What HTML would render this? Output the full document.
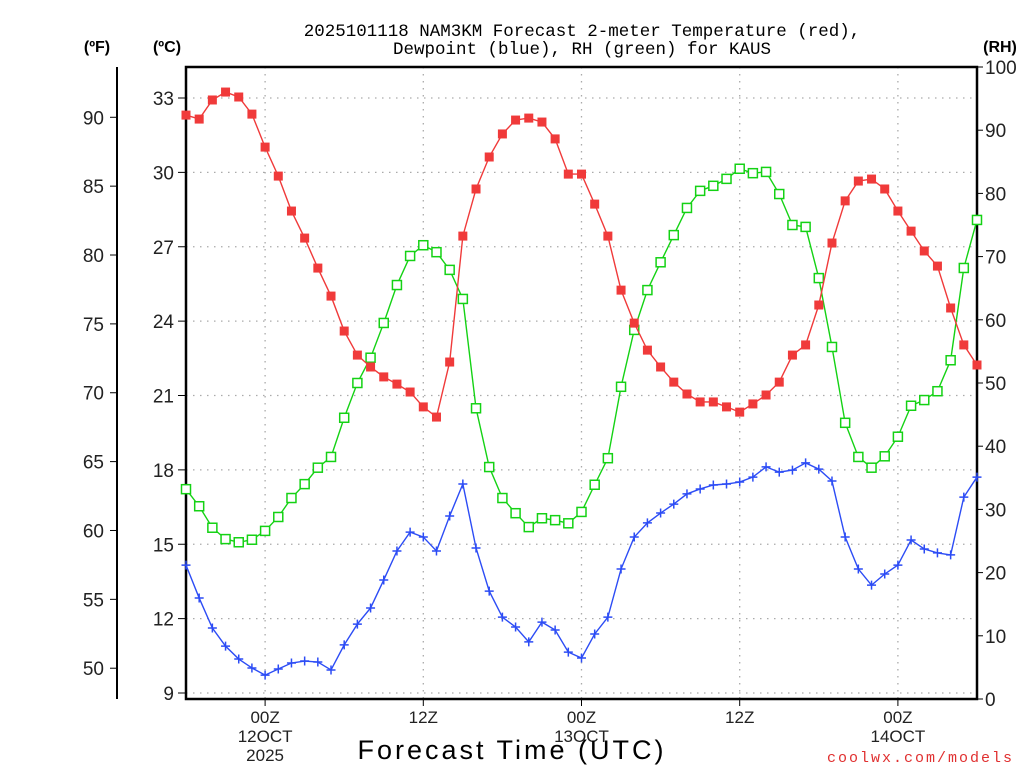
<!DOCTYPE html>
<html><head><meta charset="utf-8"><style>
body{margin:0;background:#fff;}
svg{display:block;font-family:"Liberation Sans",sans-serif;}
</style></head><body>
<svg id="chart" width="1024" height="768" xmlns="http://www.w3.org/2000/svg">
<g id="grid"></g>
<g id="axes"></g>
<g id="series"></g>
<text x="582" y="36" text-anchor="middle" font-size="17.5" font-family="Liberation Mono, monospace">2025101118 NAM3KM Forecast 2-meter Temperature (red),</text>
<text x="582" y="54" text-anchor="middle" font-size="17.5" font-family="Liberation Mono, monospace">Dewpoint (blue), RH (green) for KAUS</text>
<text x="97" y="52" text-anchor="middle" font-size="16" font-weight="bold">(ºF)</text>
<text x="167" y="52" text-anchor="middle" font-size="16" font-weight="bold">(ºC)</text>
<text x="1000" y="52" text-anchor="middle" font-size="16" font-weight="bold">(RH)</text>
<text x="512" y="759" text-anchor="middle" font-size="27" letter-spacing="3">Forecast Time (UTC)</text>
<text x="1014" y="762" text-anchor="end" font-size="15" fill="#e03030" letter-spacing="2" font-family="Liberation Mono, monospace">coolwx.com/models</text>
</svg>
<script>
const hours=[];for(let h=-6;h<=54;h++)hours.push(h);
const tempC=[32.31,32.15,32.92,33.24,33.04,32.35,31.02,29.85,28.44,27.35,26.14,25.01,23.60,22.63,22.15,21.75,21.46,21.14,20.54,20.13,22.35,27.43,29.33,30.62,31.55,32.11,32.19,32.03,31.35,29.93,29.93,28.72,27.43,25.25,23.92,22.83,22.15,21.54,21.06,20.74,20.74,20.54,20.33,20.66,21.02,21.54,22.63,23.04,24.65,27.15,28.85,29.65,29.73,29.33,28.44,27.63,26.83,26.22,24.53,23.04,22.23];
const dewC=[14.16,12.83,11.62,10.89,10.37,10.01,9.72,9.97,10.21,10.29,10.25,9.93,10.94,11.78,12.43,13.56,14.73,15.49,15.29,14.73,16.14,17.43,14.85,13.11,12.06,11.66,11.06,11.86,11.54,10.65,10.41,11.38,12.06,14.00,15.29,15.86,16.26,16.62,17.03,17.23,17.39,17.43,17.51,17.71,18.12,17.91,17.99,18.28,18.03,17.55,15.29,14.00,13.35,13.80,14.16,15.17,14.81,14.65,14.57,16.90,17.71];
const rh=[33.2,30.5,27.1,25.3,24.8,25.2,26.6,28.8,31.8,34.0,36.6,38.3,44.5,50.0,54.0,59.5,65.5,70.1,71.8,70.7,67.9,63.3,46.0,36.7,31.8,29.4,27.2,28.6,28.3,27.8,29.6,33.9,38.1,49.4,58.4,64.7,69.1,73.4,77.7,80.4,81.2,82.3,83.9,83.2,83.4,79.9,75.0,74.7,66.6,55.7,43.7,38.3,36.6,38.4,41.5,46.4,47.3,48.7,53.6,68.2,75.8];
const cTicks=[9,12,15,18,21,24,27,30,33];
const fTicks=[50,55,60,65,70,75,80,85,90];
const rhTicks=[0,10,20,30,40,50,60,70,80,90,100];
const xTickHours=[0,12,24,36,48];
const xTickLabels=[["00Z","12OCT","2025"],["12Z"],["00Z","13OCT"],["12Z"],["00Z","14OCT"]];

const NS="http://www.w3.org/2000/svg";
const X0=186,X1=977,Y0=67,Y1=699;
const xS=h=>X0+(h+6)*(X1-X0)/60;
const yC=c=>98+(33-c)*(693-98)/24;
const yF=f=>yC((f-32)*5/9);
const yR=r=>Y1-r*(Y1-Y0)/100;
function mk(tag,attrs,parent,txt){const e=document.createElementNS(NS,tag);for(const k in attrs)e.setAttribute(k,attrs[k]);if(txt!==undefined)e.textContent=txt;parent.appendChild(e);return e;}
const grid=document.getElementById('grid'),axes=document.getElementById('axes'),ser=document.getElementById('series');

cTicks.forEach(c=>{
 const y=yC(c);
 const g=mk('line',{x1:X0,x2:X1,y1:y,y2:y,stroke:'#aaa','stroke-width':1.3,'stroke-dasharray':'1.5 5.5'},grid);
 
 
 const t=mk('line',{x1:X0-8,x2:X0,y1:y,y2:y,stroke:'#000','stroke-width':1},axes);
 
 
 const l=mk('text',{x:X0-12,y:y+7,'text-anchor':'end','font-size':19,fill:'#222'},axes,String(c));
 
 
});
xTickHours.forEach((h,i)=>{
 const x=xS(h);
 const g=mk('line',{x1:x,x2:x,y1:Y0,y2:Y1,stroke:'#aaa','stroke-width':1.3,'stroke-dasharray':'1.5 5.5'},grid);
 
 
 const t=mk('line',{x1:x,x2:x,y1:Y1,y2:Y1+7,stroke:'#000','stroke-width':1},axes);
 
 
 xTickLabels[i].forEach((s,j)=>{
  const l=mk('text',{x:x,y:723+j*19,'text-anchor':'middle','font-size':17,fill:'#222'},axes,s);
  
  
 });
});
fTicks.forEach(f=>{
 const y=yF(f);
 const t=mk('line',{x1:110,x2:117,y1:y,y2:y,stroke:'#000','stroke-width':1},axes);
 
 
 const l=mk('text',{x:104,y:y+7,'text-anchor':'end','font-size':19,fill:'#222'},axes,String(f));
 
 
});
rhTicks.forEach(r=>{
 const y=yR(r);
 const t=mk('line',{x1:X1,x2:X1+6,y1:y,y2:y,stroke:'#000','stroke-width':1},axes);
 
 
 const l=mk('text',{x:985,y:y+7,'text-anchor':'start','font-size':19,fill:'#222'},axes,String(r));
 
 
});
const fr=mk('rect',{x:X0,y:Y0,width:X1-X0,height:Y1-Y0,fill:'none',stroke:'#000','stroke-width':2.5},axes);


const fa=mk('line',{x1:117,x2:117,y1:Y0,y2:Y1,stroke:'#000','stroke-width':2},axes);



function series(vals,yfn,color,name,marker){
 const pts=vals.map((v,i)=>[xS(hours[i]),yfn(v)]);
 const pl=mk('polyline',{points:pts.map(p=>p.join(',')).join(' '),fill:'none',stroke:color,'stroke-width':1.4},ser);
 
 
 pts.forEach(p=>{
  let m;
  if(marker==='fill'){m=mk('rect',{x:p[0]-4.5,y:p[1]-4.5,width:9,height:9,fill:color},ser);}
  else if(marker==='open'){m=mk('rect',{x:p[0]-4.5,y:p[1]-4.5,width:9,height:9,fill:'#fff',stroke:color,'stroke-width':1.5},ser);}
  else{m=mk('path',{d:`M${p[0]-4.5},${p[1]}H${p[0]+4.5}M${p[0]},${p[1]-4.5}V${p[1]+4.5}`,stroke:color,'stroke-width':1.5},ser);}
  
  
 });
}
series(rh,yR,'#14d214','rh','open');
series(tempC,yC,'#f03a3a','temperature','fill');
series(dewC,yC,'#2c4cf5','dewpoint','plus');
</script>
</body></html>
